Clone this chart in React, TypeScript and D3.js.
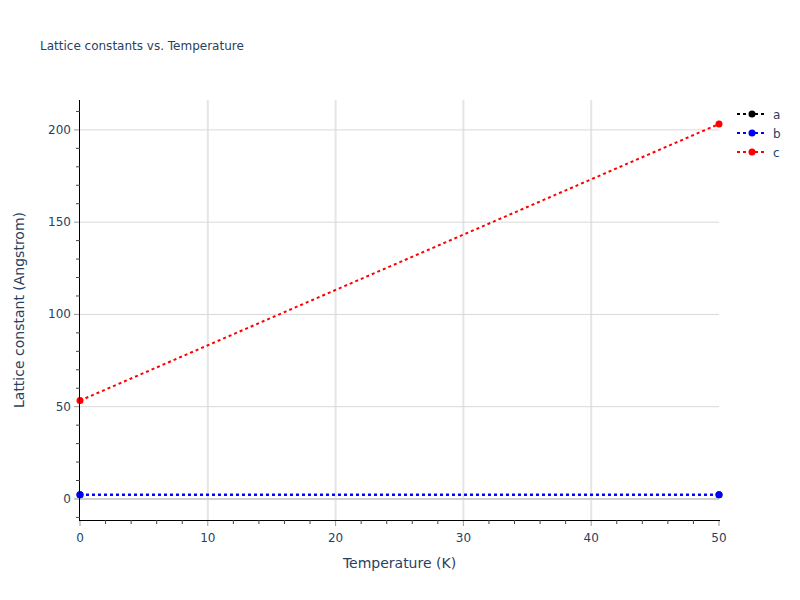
import { useEffect, useRef } from 'react';
import * as d3 from 'd3';

// temperature samples (K)
const temperatures = [0, 50];
// lattice constants (Angstrom)
const aValues = [2.3, 2.3];
const bValues = [2.3, 2.3];
const cValues = [53.3, 203.2];

const seriesNames = ['a', 'b', 'c'];
const seriesColors = ['#000000', '#0000ff', '#ff0000'];
const xTicks = [0, 10, 20, 30, 40, 50];
const yTicks = [0, 50, 100, 150, 200];

const FONT = '"DejaVu Sans", Verdana, sans-serif';
const TEXT = '#2a3f5f';

const App: React.FC = () => {
    const svgRef = useRef<SVGSVGElement>(null);

    useEffect(() => {
        if (!svgRef.current) return;
        const svg = d3.select(svgRef.current);
        svg.selectAll('*').remove();

        const left = 80, right = 719, top = 100, bottom = 520;

        const x = d3.scaleLinear().domain([0, 50]).range([left, right]);
        const y = d3.scaleLinear().domain([-11.4, 216.2]).range([bottom, top]);

        svg.append('rect').attr('width', 800).attr('height', 600).attr('fill', '#fff');

        // grid
        svg.append('g').selectAll('line').data(xTicks.filter(t => t > 0 && t < 50)).join('line')
            .attr('x1', d => x(d)).attr('x2', d => x(d))
            .attr('y1', top).attr('y2', bottom)
            .attr('stroke', '#e5e5e5').attr('stroke-width', 2);
        svg.append('g').selectAll('line').data(yTicks).join('line')
            .attr('x1', left).attr('x2', right)
            .attr('y1', d => y(d)).attr('y2', d => y(d))
            .attr('stroke', d => d === 0 ? '#d0d0d0' : '#d9d9d9')
            .attr('stroke-width', d => d === 0 ? 2 : 1);

        // series
        const series = [aValues, bValues, cValues];
        const line = d3.line<[number, number]>().x(d => x(d[0])).y(d => y(d[1]));
        series.forEach((vals, i) => {
            const pts: [number, number][] = temperatures.map((t, j) => [t, vals[j]]);
            const g = svg.append('g');
            g.append('path').attr('d', line(pts)!)
                .attr('fill', 'none').attr('stroke', seriesColors[i])
                .attr('stroke-width', 2).attr('stroke-dasharray', '3,3');
            g.selectAll('circle').data(pts).join('circle')
                .attr('cx', d => x(d[0])).attr('cy', d => y(d[1])).attr('r', 3.5)
                .attr('fill', seriesColors[i]);
        });

        // axes lines
        svg.append('line').attr('x1', left - 0.5).attr('x2', left - 0.5).attr('y1', top).attr('y2', bottom + 1)
            .attr('stroke', '#000').attr('stroke-width', 1);
        svg.append('line').attr('x1', left - 1).attr('x2', right + 1).attr('y1', bottom + 0.5).attr('y2', bottom + 0.5)
            .attr('stroke', '#000').attr('stroke-width', 1);

        // minor ticks
        const xMinor = d3.range(0, 51, 2).filter(v => v % 10 !== 0);
        svg.append('g').selectAll('line').data(xMinor).join('line')
            .attr('x1', d => x(d)).attr('x2', d => x(d))
            .attr('y1', bottom).attr('y2', bottom + 4)
            .attr('stroke', '#444').attr('stroke-width', 1);
        const yMinor = d3.range(-10, 211, 10).filter(v => v % 50 !== 0);
        svg.append('g').selectAll('line').data(yMinor).join('line')
            .attr('x1', left - 4).attr('x2', left)
            .attr('y1', d => y(d)).attr('y2', d => y(d))
            .attr('stroke', '#444').attr('stroke-width', 1);

        // major ticks
        svg.append('g').selectAll('line').data(xTicks).join('line')
            .attr('x1', d => x(d)).attr('x2', d => x(d))
            .attr('y1', bottom + 1).attr('y2', bottom + 6)
            .attr('stroke', '#999').attr('stroke-width', 1);
        svg.append('g').selectAll('line').data(yTicks).join('line')
            .attr('x1', left - 6).attr('x2', left - 1)
            .attr('y1', d => y(d)).attr('y2', d => y(d))
            .attr('stroke', '#999').attr('stroke-width', 1);

        // tick labels
        svg.append('g').selectAll('text').data(xTicks).join('text')
            .attr('x', d => x(d)).attr('y', bottom + 22)
            .attr('text-anchor', 'middle').attr('font-family', FONT).attr('font-size', 12)
            .attr('fill', TEXT).text(d => d);
        svg.append('g').selectAll('text').data(yTicks).join('text')
            .attr('x', left - 9).attr('y', d => y(d) + 4)
            .attr('text-anchor', 'end').attr('font-family', FONT).attr('font-size', 12)
            .attr('fill', TEXT).text(d => d);

        // axis titles
        svg.append('text').attr('x', (left + right) / 2).attr('y', 568)
            .attr('text-anchor', 'middle').attr('font-family', FONT).attr('font-size', 14)
            .attr('fill', TEXT).text('Temperature (K)');
        svg.append('text').attr('transform', `translate(24,${(top + bottom) / 2}) rotate(-90)`)
            .attr('text-anchor', 'middle').attr('font-family', FONT).attr('font-size', 14)
            .attr('fill', TEXT).text('Lattice constant (Angstrom)');

        // title
        svg.append('text').attr('x', 40).attr('y', 50)
            .attr('font-family', FONT).attr('font-size', 12)
            .attr('fill', TEXT).text('Lattice constants vs. Temperature');

        // legend
        const legend = svg.append('g').attr('transform', 'translate(737,114)');
        seriesNames.forEach((name, i) => {
            const row = legend.append('g').attr('transform', `translate(0,${i * 19})`);
            row.append('line').attr('x1', 0).attr('x2', 30).attr('y1', 0).attr('y2', 0)
                .attr('stroke', seriesColors[i]).attr('stroke-width', 2).attr('stroke-dasharray', '3,3');
            row.append('circle').attr('cx', 15).attr('cy', 0).attr('r', 3.5).attr('fill', seriesColors[i]);
            row.append('text').attr('x', 36).attr('y', 4.5)
                .attr('font-family', FONT).attr('font-size', 12)
                .attr('fill', TEXT).text(name);
        });
    }, []);

    return <svg ref={svgRef} width={800} height={600} style={{ display: 'block', position: 'absolute', left: 0, top: 0 }} />;
};

export default App;
